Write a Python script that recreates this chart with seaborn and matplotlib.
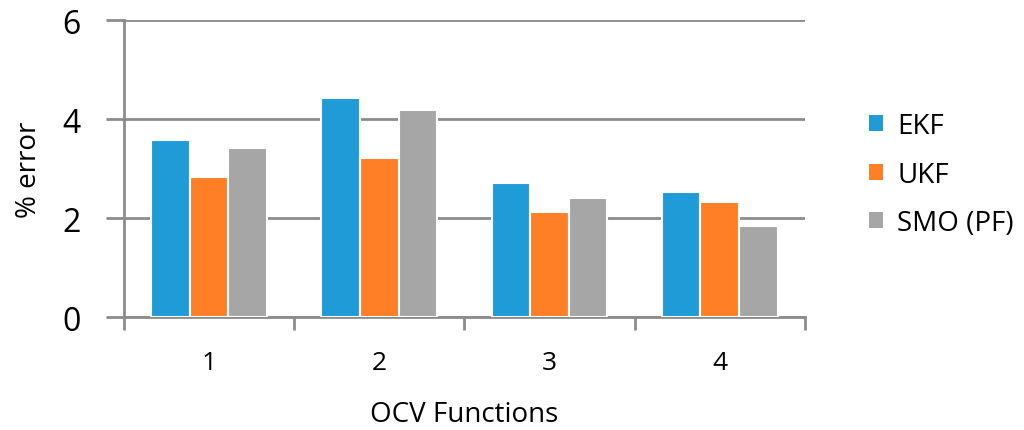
import pandas as pd
import seaborn as sns
import matplotlib.pyplot as plt

categories = ['1', '2', '3', '4']
methods = ['EKF', 'UKF', 'SMO (PF)']
ekf = [3.57, 4.43, 2.71, 2.53]
ukf = [2.84, 3.22, 2.12, 2.32]
smo = [3.41, 4.19, 2.40, 1.84]

df = pd.DataFrame({
    'ocv': categories * 3,
    'method': [m for m in methods for _ in categories],
    'error': ekf + ukf + smo,
})

palette = {'EKF': '#1F9BD7', 'UKF': '#FF7F27', 'SMO (PF)': '#A6A6A6'}
axis_col = '#8C8C8C'

sns.set_style('white')
plt.rcParams['font.family'] = ['Open Sans', 'DejaVu Sans']
plt.rcParams['text.color'] = 'black'
plt.rcParams['axes.labelcolor'] = 'black'
plt.rcParams['xtick.labelcolor'] = 'black'
plt.rcParams['ytick.labelcolor'] = 'black'

fig = plt.figure(figsize=(10.24, 4.31), dpi=100)
ax = fig.add_axes([0.121, 0.262, 0.665, 0.689])

sns.barplot(data=df, x='ocv', y='error', hue='method', palette=palette,
            order=categories, hue_order=methods, width=0.68,
            edgecolor='white', linewidth=1.5, saturation=1, ax=ax, zorder=3)

ax.set_ylim(0, 6)
ax.set_yticks([0, 2, 4, 6])
ax.set_xlim(-0.5, 3.5)
ax.yaxis.grid(True, color=axis_col, linewidth=2, zorder=0)
ax.set_axisbelow(True)

for s in ['top', 'right']:
    ax.spines[s].set_visible(False)
for s in ['left', 'bottom']:
    ax.spines[s].set_color(axis_col)
    ax.spines[s].set_linewidth(2)

ax.set_xticks([0, 1, 2, 3])
ax.set_xticklabels(categories)
ax.set_xticks([-0.5, 0.5, 1.5, 2.5, 3.5], minor=True)
ax.tick_params(axis='x', which='major', length=0, labelsize=19, pad=24)
ax.tick_params(axis='x', which='minor', length=9, width=2, color=axis_col,
               direction='out', bottom=True)
ax.tick_params(axis='y', length=13, width=2, color=axis_col, direction='out',
               labelsize=23, pad=18, left=True)

ax.set_xlabel('OCV Functions', fontsize=20, labelpad=18)
ax.set_ylabel('% error', fontsize=20, labelpad=14)

leg = ax.legend(loc='center left', bbox_to_anchor=(1.058, 0.48), frameon=False,
                fontsize=20, handlelength=0.5, handleheight=0.5,
                handletextpad=0.5, labelspacing=0.73)
for h in leg.legend_handles:
    h.set_edgecolor('none')

fig.savefig('out.png', dpi=100)
